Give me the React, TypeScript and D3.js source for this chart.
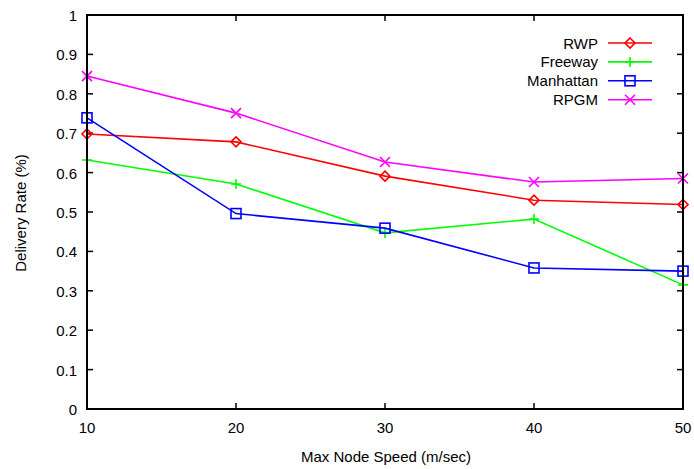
import React from "react";
import * as d3 from "d3";

const speeds = [10, 20, 30, 40, 50];
const rwp = [0.698, 0.678, 0.591, 0.530, 0.519];
const freeway = [0.632, 0.571, 0.447, 0.482, 0.315];
const manhattan = [0.739, 0.496, 0.459, 0.358, 0.35];
const rpgm = [0.845, 0.751, 0.627, 0.576, 0.585];
const yTicks = [0, 0.1, 0.2, 0.3, 0.4, 0.5, 0.6, 0.7, 0.8, 0.9, 1];
const xTicks = [10, 20, 30, 40, 50];

const series = [
  { name: "RWP", values: rwp, color: "#ff0000", marker: "diamond" },
  { name: "Freeway", values: freeway, color: "#00ff00", marker: "plus" },
  { name: "Manhattan", values: manhattan, color: "#0000ff", marker: "square" },
  { name: "RPGM", values: rpgm, color: "#ff00ff", marker: "cross" },
];

const L = 87, R = 683, T = 15, B = 409;

function Marker({ type, x, y, color }: { type: string; x: number; y: number; color: string }) {
  const s = 5;
  if (type === "diamond")
    return <path d={`M${x},${y - s}L${x + s},${y}L${x},${y + s}L${x - s},${y}Z`} fill="none" stroke={color} strokeWidth={1.6} />;
  if (type === "plus")
    return <path d={`M${x - s},${y}H${x + s}M${x},${y - s}V${y + s}`} stroke={color} strokeWidth={1.6} />;
  if (type === "square")
    return <rect x={x - s} y={y - s} width={2 * s} height={2 * s} fill="none" stroke={color} strokeWidth={1.6} />;
  return <path d={`M${x - s},${y - s}L${x + s},${y + s}M${x - s},${y + s}L${x + s},${y - s}`} stroke={color} strokeWidth={1.6} />;
}

export default function App() {
  const x = d3.scaleLinear().domain([10, 50]).range([L, R]);
  const y = d3.scaleLinear().domain([0, 1]).range([B, T]);
  const line = d3.line<[number, number]>().x((d) => x(d[0])).y((d) => y(d[1]));
  const font = "Liberation Sans, Arial, sans-serif";
  const fs = 15;
  const tk = 6;
  return (
    <svg width={694} height={469} style={{ position: "absolute", left: 0, top: 0 }} fontFamily={font}>
      <rect width={694} height={469} fill="#fff" />
      {yTicks.map((t) => (
        <g key={"y" + t}>
          <line x1={L} x2={L + tk} y1={y(t)} y2={y(t)} stroke="#000" strokeWidth={1.5} />
          <line x1={R} x2={R - tk} y1={y(t)} y2={y(t)} stroke="#000" strokeWidth={1.5} />
          <text x={77} y={y(t) + 6} textAnchor="end" fontSize={fs}>{String(t)}</text>
        </g>
      ))}
      {xTicks.map((t) => (
        <g key={"x" + t}>
          <line x1={x(t)} x2={x(t)} y1={B} y2={B - tk} stroke="#000" strokeWidth={1.5} />
          <line x1={x(t)} x2={x(t)} y1={T} y2={T + tk} stroke="#000" strokeWidth={1.5} />
          <text x={x(t)} y={433} textAnchor="middle" fontSize={fs}>{String(t)}</text>
        </g>
      ))}
      <text x={386} y={462} textAnchor="middle" fontSize={fs}>Max Node Speed (m/sec)</text>
      <text transform="translate(26,213) rotate(-90)" textAnchor="middle" fontSize={fs}>Delivery Rate (%)</text>
      {series.map((s) => {
        const pts: [number, number][] = speeds.map((v, i) => [v, s.values[i]]);
        return (
          <g key={s.name}>
            <path d={line(pts) || ""} fill="none" stroke={s.color} strokeWidth={1.6} />
            {pts.map((p, i) => (
              <Marker key={i} type={s.marker} x={x(p[0])} y={y(p[1])} color={s.color} />
            ))}
          </g>
        );
      })}
      {series.map((s, i) => {
        const ly = 43 + i * 18.9;
        return (
          <g key={"leg" + s.name}>
            <text x={598} y={ly + 5.5} textAnchor="end" fontSize={fs}>{s.name}</text>
            <line x1={608} x2={652} y1={ly} y2={ly} stroke={s.color} strokeWidth={1.6} />
            <Marker type={s.marker} x={630} y={ly} color={s.color} />
          </g>
        );
      })}
      <rect x={L} y={T} width={R - L} height={B - T} fill="none" stroke="#000" strokeWidth={2} />
    </svg>
  );
}
